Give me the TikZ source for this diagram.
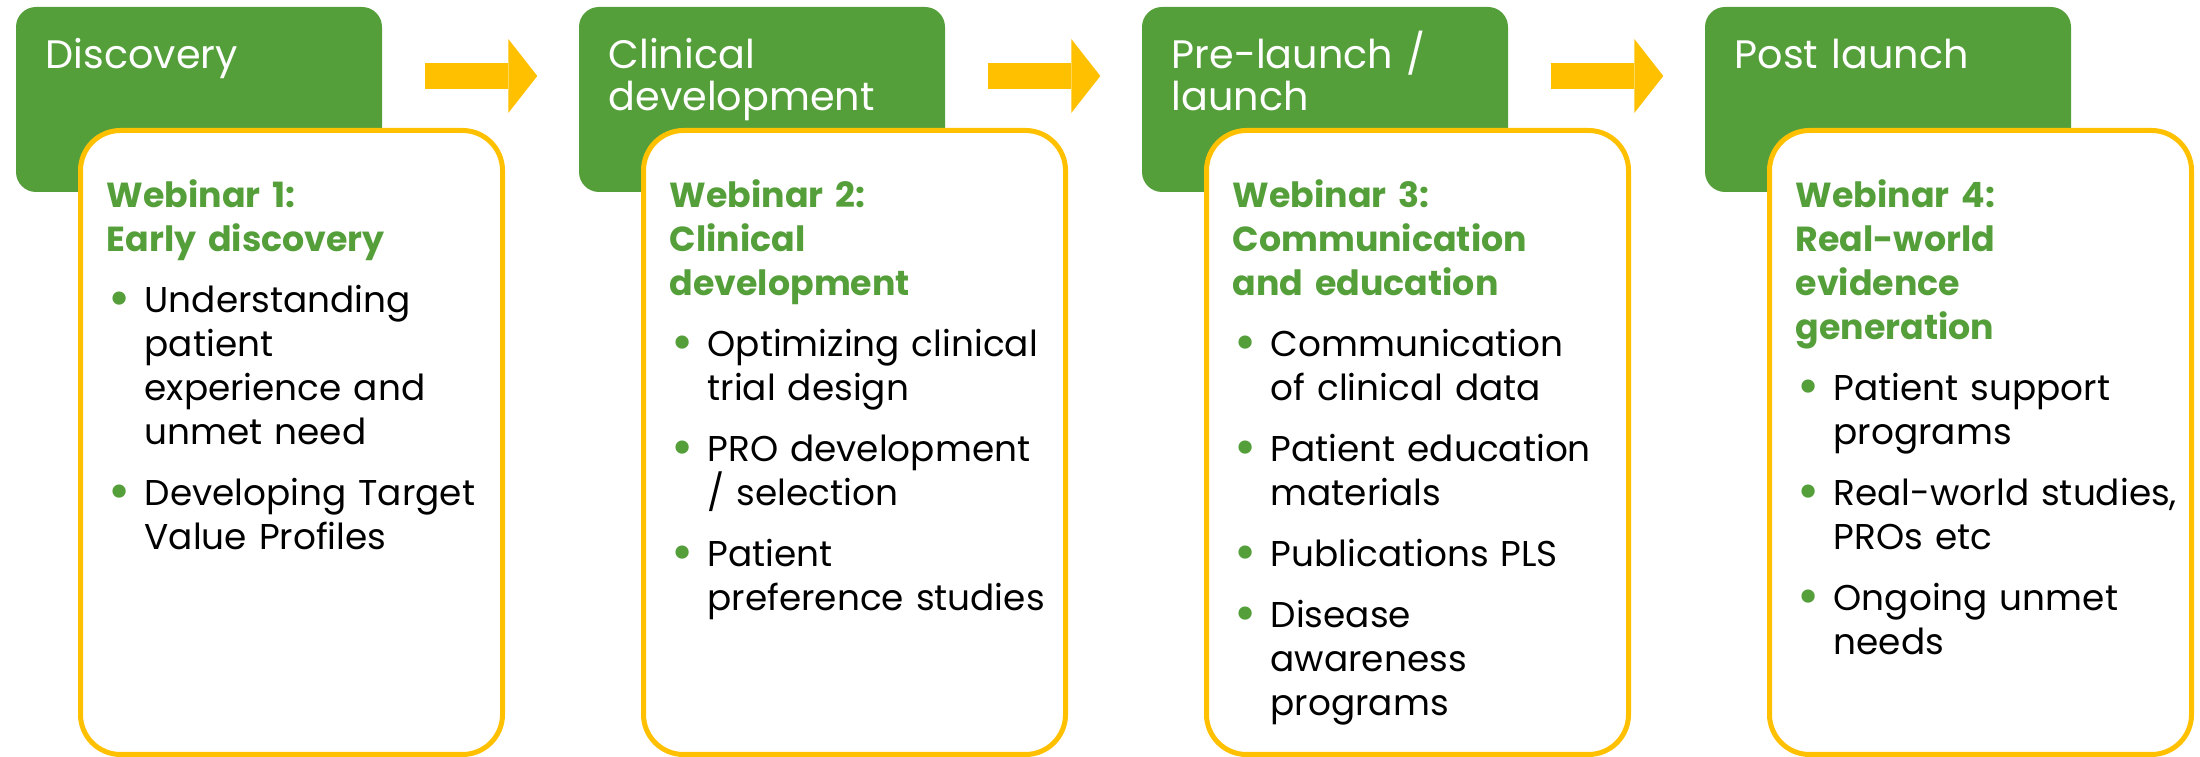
\documentclass[tikz,border=0pt]{standalone}
\usepackage{fontspec}
\setmainfont{Poppins}
\usetikzlibrary{arrows.meta}

\definecolor{stagegreen}{RGB}{85,159,59}
\definecolor{webyellow}{RGB}{255,192,0}

\tikzset{
  stagebox/.style={fill=stagegreen, rounded corners=0.2cm, minimum width=3.66cm, minimum height=1.85cm, inner sep=0pt},
  stagetitle/.style={anchor=base west, inner sep=0pt, text=white, text width=3.3cm, align=left, font=\fontsize{11.3}{11.9}\selectfont},
  webbox/.style={draw=webyellow, line width=0.05cm, fill=white, rounded corners=0.4cm, minimum width=4.22cm, minimum height=6.24cm, inner sep=0pt},
  webtext/.style={anchor=base west, inner sep=0pt, text width=4.4cm, align=left, font=\fontsize{10.2}{12.5}\selectfont},
  stagearrow/.style={webyellow, line width=0.26cm, -{Triangle[length=0.29cm, width=0.74cm, line width=0pt]}}
}

\newcommand{\webhead}[1]{\setlength{\parskip}{0.17cm}\hyphenpenalty=10000\exhyphenpenalty=10000
  \noindent{\fontsize{9.9}{12.5}\selectfont\bfseries\color{stagegreen}#1\par}}
\newcommand{\webitem}[1]{\hangindent=0.38cm\hangafter=1\noindent
  \makebox[0.38cm][l]{\hspace{0.02cm}\raisebox{-0.04cm}{\scalebox{1.5}{\color{stagegreen}\textbullet}}}#1\par}

\begin{document}
\begin{tikzpicture}
\useasboundingbox (0,0) rectangle (22,7.57);

\node[stagebox] (stage1) at (1.99,6.575) {};
\node[stagetitle] (title1) at (0.45,6.88) {Discovery};
\node[webbox] (web1) at (2.915,3.145) {};
\node[webtext] (text1) at (1.06,5.49) {\webhead{Webinar 1:\newline Early discovery}
  \webitem{Understanding\newline patient\newline experience and\newline unmet need}
  \webitem{Developing Target\newline Value Profiles}};

\node[stagebox] (stage2) at (7.62,6.575) {};
\node[stagetitle] (title2) at (6.08,6.88) {Clinical\newline development};
\node[webbox] (web2) at (8.545,3.145) {};
\node[webtext] (text2) at (6.69,5.49) {\webhead{Webinar 2:\newline Clinical\newline development}
  \webitem{Optimizing clinical\newline trial design}
  \webitem{PRO development\newline / selection}
  \webitem{Patient\newline preference studies}};

\node[stagebox] (stage3) at (13.25,6.575) {};
\node[stagetitle] (title3) at (11.71,6.88) {Pre-launch /\newline launch};
\node[webbox] (web3) at (14.175,3.145) {};
\node[webtext] (text3) at (12.32,5.49) {\webhead{Webinar 3:\newline Communication\newline and education}
  \webitem{Communication\newline of clinical data}
  \webitem{Patient education\newline materials}
  \webitem{Publications PLS}
  \webitem{Disease\newline awareness\newline programs}};

\node[stagebox] (stage4) at (18.88,6.575) {};
\node[stagetitle] (title4) at (17.34,6.88) {Post launch};
\node[webbox] (web4) at (19.805,3.145) {};
\node[webtext] (text4) at (17.95,5.49) {\webhead{Webinar 4:\newline Real-world\newline evidence\newline generation}
  \webitem{Patient support\newline programs}
  \webitem{Real-world studies,\newline PROs etc}
  \webitem{Ongoing unmet\newline needs}};

\draw[stagearrow] ([xshift=0.42cm, yshift=0.235cm]stage1.east) -- ([xshift=-0.41cm, yshift=0.235cm]stage2.west);
\draw[stagearrow] ([xshift=0.42cm, yshift=0.235cm]stage2.east) -- ([xshift=-0.41cm, yshift=0.235cm]stage3.west);
\draw[stagearrow] ([xshift=0.42cm, yshift=0.235cm]stage3.east) -- ([xshift=-0.41cm, yshift=0.235cm]stage4.west);
\end{tikzpicture}
\end{document}
